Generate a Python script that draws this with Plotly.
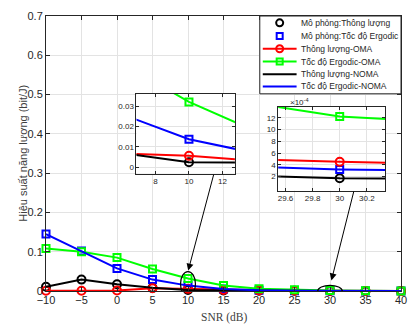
import plotly.graph_objects as go

# ---- data -------------------------------------------------------------
snr = [-10, -5, 0, 5, 10, 15, 20, 25, 30, 35, 40]

thr_noma = [0.011, 0.029, 0.017, 0.008, 0.0024, 0.0015, 0.0008, 0.0005, 0.00017, 0.0001, 0.00006]
erg_noma = [0.145, 0.102, 0.0575, 0.029, 0.0137, 0.005, 0.0018, 0.0007, 0.00032, 0.00012, 0.00005]
thr_oma = [0.0005, 0.0007, 0.0012, 0.007, 0.0055, 0.0025, 0.0012, 0.0008, 0.00045, 0.0002, 0.0001]
erg_oma = [0.108, 0.1, 0.085, 0.056, 0.032, 0.014, 0.006, 0.003, 0.00122, 0.0006, 0.0003]

legend_labels = [
    "Mô phỏng:Thông lượng",
    "Mô phỏng:Tốc độ Ergodic",
    "Thông lượng-OMA",
    "Tốc độ Ergodic-OMA",
    "Thông lượng-NOMA",
    "Tốc độ Ergodic-NOMA",
]

main_xticks = list(range(-10, 45, 5))
main_yticks = [0, 0.1, 0.2, 0.3, 0.4, 0.5, 0.6, 0.7]
main_yticktext = ["0", "0.1", "0.2", "0.3", "0.4", "0.5", "0.6", "0.7"]

zoom1_xticks = [8, 10, 12]
zoom1_yticks = [0, 0.01, 0.02, 0.03]
zoom1_yticktext = ["0", "0.01", "0.02", "0.03"]

zoom2_xticks = [29.6, 29.8, 30, 30.2]
zoom2_xticktext = ["29.6", "29.8", "30", "30.2"]
zoom2_yticks = [2e-4, 4e-4, 6e-4, 8e-4, 10e-4, 12e-4]
zoom2_yticktext = ["2", "4", "6", "8", "10", "12"]

# ---- styling ----------------------------------------------------------
RED, GREEN, BLUE, BLACK = "#ff0000", "#00ff00", "#0000ff", "#000000"
TXT = "#262626"
GRID = "#e3e3e3"
FONT = "Arial"

W_FIG, H_FIG = 417, 328
L, R, T, B = 46, 14, 10, 37
PW, PH = W_FIG - L - R, H_FIG - T - B


def px(x):
    return (x - L) / PW


def py(y):
    return (T + PH - y) / PH


fig = go.Figure()


def add_series(xa, ya, clip):
    common = dict(xaxis=xa, yaxis=ya, cliponaxis=clip, showlegend=False, hoverinfo="skip")
    fig.add_trace(go.Scatter(x=snr, y=thr_noma, mode="markers",
                             marker=dict(symbol="circle-open", size=8, color=BLACK, line=dict(width=2)),
                             **common))
    fig.add_trace(go.Scatter(x=snr, y=erg_noma, mode="markers",
                             marker=dict(symbol="square-open", size=7, color=BLUE, line=dict(width=2)),
                             **common))
    fig.add_trace(go.Scatter(x=snr, y=thr_oma, mode="lines+markers",
                             line=dict(color=RED, width=2),
                             marker=dict(symbol="circle-open", size=8, color=RED, line=dict(width=2)),
                             **common))
    fig.add_trace(go.Scatter(x=snr, y=erg_oma, mode="lines+markers",
                             line=dict(color=GREEN, width=2),
                             marker=dict(symbol="square-open", size=7, color=GREEN, line=dict(width=2)),
                             **common))
    fig.add_trace(go.Scatter(x=snr, y=thr_noma, mode="lines",
                             line=dict(color=BLACK, width=2), **common))
    fig.add_trace(go.Scatter(x=snr, y=erg_noma, mode="lines",
                             line=dict(color=BLUE, width=2), **common))


add_series("x", "y", False)
add_series("x2", "y2", True)
add_series("x3", "y3", True)

axis_common = dict(showline=True, linecolor=TXT, linewidth=1, mirror="ticks",
                   ticks="inside", tickcolor=TXT, gridcolor=GRID, gridwidth=1,
                   zeroline=False, color=TXT)

fig.update_layout(
    width=W_FIG, height=H_FIG,
    margin=dict(l=L, r=R, t=T, b=B, pad=0),
    paper_bgcolor="white", plot_bgcolor="white",
    font=dict(family=FONT, color=TXT),
    xaxis=dict(range=[-10, 40], tickvals=main_xticks, ticklen=4, ticklabelstandoff=-1,
               tickfont=dict(size=11), domain=[0, 1], **axis_common),
    yaxis=dict(range=[0, 0.7], tickvals=main_yticks, ticktext=main_yticktext, ticklen=4,
               tickfont=dict(size=11), domain=[0, 1], **axis_common),
    xaxis2=dict(range=[6.87, 12.74], tickvals=zoom1_xticks, ticklen=3, anchor="y2",
                tickfont=dict(size=8), domain=[px(137), px(236)], **axis_common),
    yaxis2=dict(range=[-0.0032, 0.036], tickvals=zoom1_yticks, ticktext=zoom1_yticktext,
                ticklen=3, anchor="x2", tickfont=dict(size=8),
                domain=[py(171), py(89.5)], **axis_common),
    xaxis3=dict(range=[29.546, 30.335], tickvals=zoom2_xticks, ticktext=zoom2_xticktext,
                ticklen=3, anchor="y3", tickfont=dict(size=8),
                domain=[px(279.5), px(387)], **axis_common),
    yaxis3=dict(range=[-0.4e-4, 13.9e-4], tickvals=zoom2_yticks, ticktext=zoom2_yticktext,
                ticklen=3, anchor="x3", tickfont=dict(size=8),
                domain=[py(188.5), py(102.5)], **axis_common),
)

shapes = []
annotations = []

# ellipses marking the magnified regions
shapes.append(dict(type="circle", xref="x", yref="y", x0=8.95, x1=11.05, y0=-0.0125, y1=0.0495,
                   line=dict(color=BLACK, width=1.2), layer="above"))
shapes.append(dict(type="circle", xref="x", yref="y", x0=28.27, x1=31.73, y0=-0.0145, y1=0.0145,
                   line=dict(color=BLACK, width=1.2), layer="above"))

# arrows from each inset to its ellipse
annotations.append(dict(x=10.03, y=0.052, xref="x", yref="y", ax=13.67, ay=0.30,
                        axref="x", ayref="y", showarrow=True, arrowhead=2, arrowsize=1.4,
                        arrowwidth=1, arrowcolor=BLACK, text=""))
annotations.append(dict(x=30.2, y=0.027, xref="x", yref="y", ax=33.4, ay=0.257,
                        axref="x", ayref="y", showarrow=True, arrowhead=2, arrowsize=1.4,
                        arrowwidth=1, arrowcolor=BLACK, text=""))

# exponent label of the second inset
annotations.append(dict(x=px(289), y=py(98), xref="paper", yref="paper",
                        text="×10<sup>-4</sup>", showarrow=False, xanchor="left", yanchor="middle",
                        font=dict(size=8, color=TXT)))

# axis titles
annotations.append(dict(x=px(14), y=0.5, xref="paper", yref="paper", textangle=-90,
                        text="Hiệu suất năng lượng (bit/J)", showarrow=False,
                        font=dict(size=11, color="#404040", family=FONT)))
annotations.append(dict(x=0.5, y=py(318), xref="paper", yref="paper",
                        text="SNR (dB)", showarrow=False, yanchor="middle",
                        font=dict(size=11.5, color="#404040", family="Liberation Serif")))

# legend box
shapes.append(dict(type="rect", xref="paper", yref="paper",
                   x0=px(261), x1=px(403), y0=py(89.5), y1=py(10),
                   fillcolor="white", line=dict(color=TXT, width=1), layer="above"))
entry_y = [17, 30.5, 43.5, 56.5, 69.5, 82]
line_colors = [None, None, RED, GREEN, BLACK, BLUE]
marker_kind = [("circle", BLACK), ("square", BLUE), ("circle", RED), ("square", GREEN), None, None]
for yy, lab, lc, mk in zip(entry_y, legend_labels, line_colors, marker_kind):
    if lc:
        shapes.append(dict(type="line", xref="paper", yref="paper",
                           x0=px(264), x1=px(298), y0=py(yy), y1=py(yy),
                           line=dict(color=lc, width=2), layer="above"))
    if mk:
        kind, col = mk
        rad = 3.5 if kind == "circle" else 3.0
        shapes.append(dict(type="circle" if kind == "circle" else "rect",
                           xref="paper", yref="paper", xsizemode="pixel", ysizemode="pixel",
                           xanchor=px(281), yanchor=py(yy), x0=-rad, x1=rad, y0=-rad, y1=rad,
                           line=dict(color=col, width=2), fillcolor="rgba(0,0,0,0)",
                           layer="above"))
    annotations.append(dict(x=px(300), y=py(yy), xref="paper", yref="paper", text=lab,
                            showarrow=False, xanchor="left", yanchor="middle",
                            font=dict(size=8.5, color=TXT)))

fig.update_layout(shapes=shapes, annotations=annotations)

fig.write_html("out.html")
